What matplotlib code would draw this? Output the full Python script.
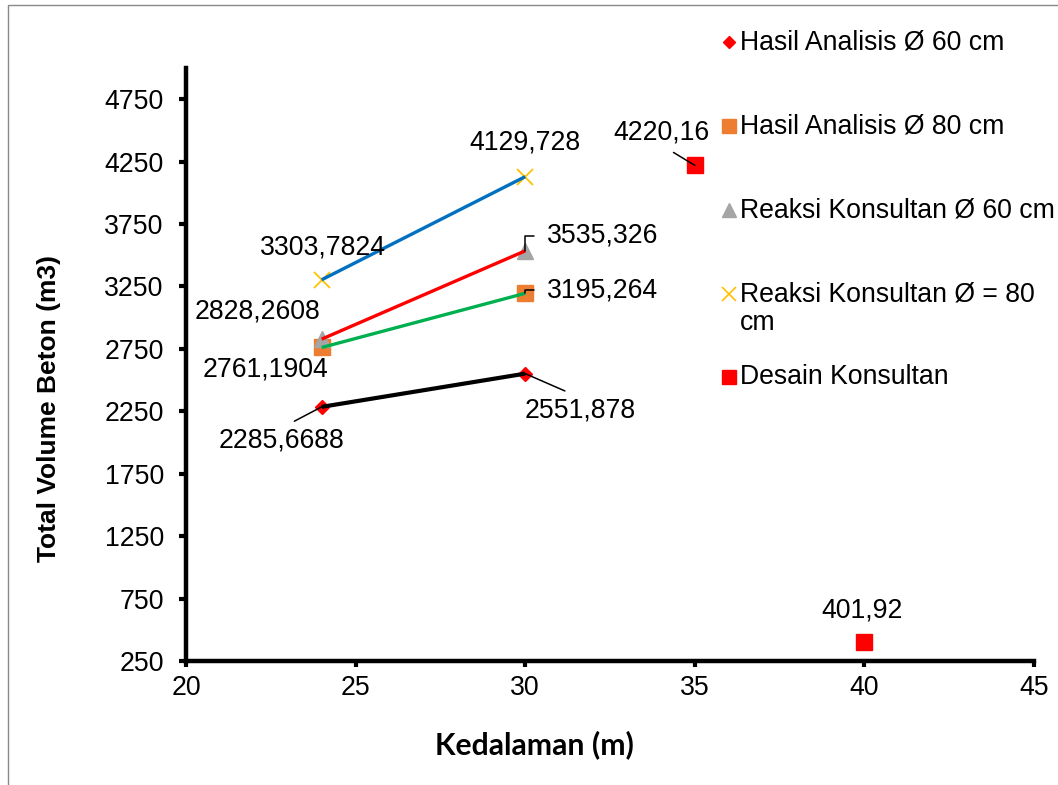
import matplotlib.pyplot as plt
from matplotlib.lines import Line2D
from matplotlib.patches import Rectangle

# Data
kedalaman = [24, 30]
hasil_60 = [2285.6688, 2551.878]
hasil_80 = [2761.1904, 3195.264]
reaksi_60 = [2828.2608, 3535.326]
reaksi_80 = [3303.7824, 4129.728]
desain_x = [35, 40]
desain = [4220.16, 401.92]

labels = ["Hasil Analisis Ø 60 cm", "Hasil Analisis Ø 80 cm",
          "Reaksi Konsultan Ø 60 cm", "Reaksi Konsultan Ø = 80\ncm",
          "Desain Konsultan"]

plt.rcParams['font.family'] = ['Liberation Sans', 'DejaVu Sans']
FS = 19.2

fig = plt.figure(figsize=(10.58, 7.85), dpi=100)
ax = fig.add_axes([186 / 1058, 1 - 661 / 785, 848 / 1058, 593 / 785])

# series: (x, y, marker style, trendline colour, trendline width)
series = [
    (kedalaman, hasil_60, dict(marker='D', ms=7, color='#FF0000'), 'black', 3.0),
    (kedalaman, hasil_80, dict(marker='s', ms=11, color='#ED7D31'), '#00B050', 2.4),
    (kedalaman, reaksi_60, dict(marker='^', ms=11, color='#A5A5A5'), '#FF0000', 2.4),
    (kedalaman, reaksi_80, dict(marker='x', ms=11, mew=1.3, color='#FFC000'), '#0070C0', 2.4),
]
for x, y, mk, lc, lw in series:
    ax.plot(x, y, linestyle='none', zorder=2, **mk)
    ax.plot(x, y, color=lc, lw=lw, zorder=3, solid_capstyle='butt')
ax.plot(desain_x, desain, linestyle='none', marker='s', ms=11.5, color='#FF0000', zorder=2)


def lab(v):
    return str(v).replace('.', ',')


def annot(x, y, dx, dy, leader=None, relpos=(0.5, 0.5), shrink=0, conn='arc3'):
    kw = {}
    if leader:
        kw['arrowprops'] = dict(arrowstyle='-', color='black', lw=1.1, relpos=relpos,
                                shrinkA=shrink, shrinkB=0, connectionstyle=conn)
    ax.annotate(lab(y), (x, y), xytext=(dx, dy), textcoords='offset pixels',
                ha='center', va='center', fontsize=FS, zorder=5, **kw)


annot(kedalaman[0], hasil_60[0], -40, -34, True, (0.5, 1), 6)
annot(kedalaman[1], hasil_60[1], 55, -37, True, (0.5, 1), 7)
annot(kedalaman[0], hasil_80[0], -56, -22)
annot(kedalaman[1], hasil_80[1], 77, 3, True, (0, 0.5), 7, 'angle,angleA=0,angleB=90,rad=0')
annot(kedalaman[0], reaksi_60[0], -64, 28)
annot(kedalaman[1], reaksi_60[1], 77, 15, True, (0, 0.5), 7, 'angle,angleA=0,angleB=90,rad=0')
annot(kedalaman[0], reaksi_80[0], 1, 32)
annot(kedalaman[1], reaksi_80[1], 0, 34)
annot(desain_x[0], desain[0], -33, 33, True, (0.5, 0), 6)
annot(desain_x[1], desain[1], -2, 32)

ax.set_xlim(20, 45)
ax.set_ylim(250, 5000)
ax.set_xticks(range(20, 46, 5))
ax.set_yticks(range(250, 5000, 500))
for s in ['top', 'right']:
    ax.spines[s].set_visible(False)
for s in ['left', 'bottom']:
    ax.spines[s].set_linewidth(3.2)
ax.tick_params(axis='y', direction='out', length=5, width=3, pad=11, labelsize=FS)
ax.tick_params(axis='x', direction='out', length=4, width=3, pad=6, labelsize=FS)

fig.text(49 / 1058, 1 - 408 / 785, "Total Volume Beton (m3)", rotation=90,
         ha='center', va='center', fontsize=19, fontweight='bold')
fig.text(534 / 1058, 1 - 745 / 785, "Kedalaman (m)", ha='center', va='center',
         fontsize=21.7, fontweight='bold', family=['Lato', 'DejaVu Sans'])

# legend, drawn by hand so the markers line up like the original
leg_mk = [dict(marker='D', ms=6.5, color='#FF0000'),
          dict(marker='s', ms=10, color='#ED7D31'),
          dict(marker='^', ms=10, color='#A5A5A5'),
          dict(marker='x', ms=10, mew=1.2, color='#FFC000'),
          dict(marker='s', ms=10.5, color='#FF0000')]
leg_y = [42, 126, 210, 294, 377]
for mk, yy, txt in zip(leg_mk, leg_y, labels):
    fig.add_artist(Line2D([729 / 1058], [1 - yy / 785], linestyle='none',
                          transform=fig.transFigure, **mk))
    if '\n' in txt:
        fig.text(740 / 1058, 1 - (yy - 12) / 785, txt, ha='left', va='top',
                 fontsize=FS, linespacing=1.1)
    else:
        fig.text(740 / 1058, 1 - yy / 785, txt, ha='left', va='center', fontsize=FS)

# chart area border (only left and top edges are visible)
fig.add_artist(Rectangle((8 / 1058, -0.1), 1.2, 1.1 - 5 / 785, transform=fig.transFigure,
                         fill=False, edgecolor='#898989', lw=1))

fig.savefig('out.png', dpi=100)
